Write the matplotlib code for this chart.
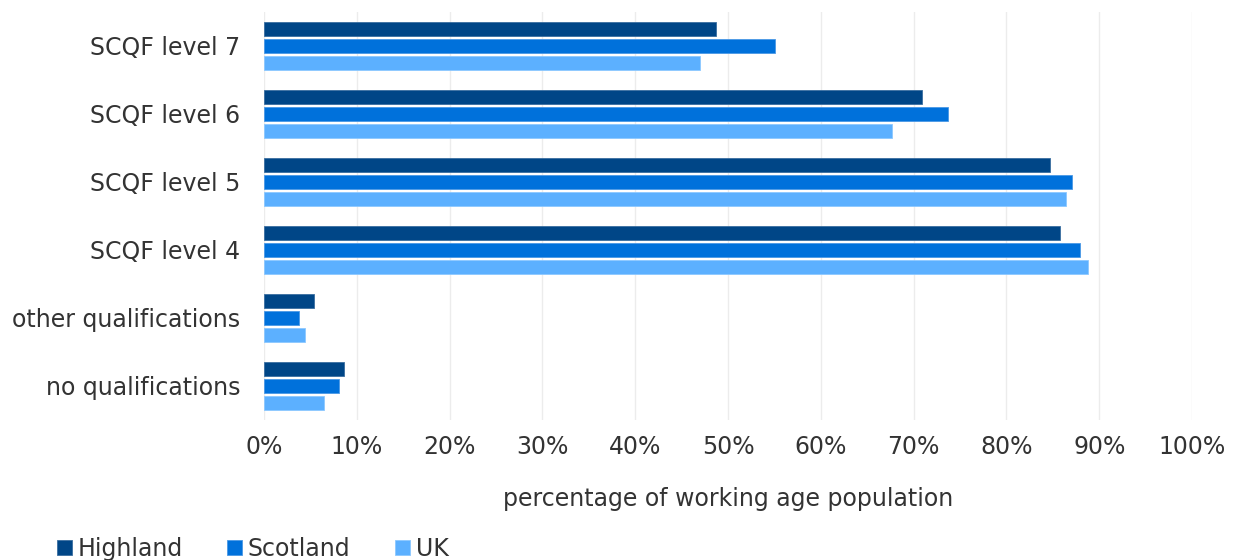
import numpy as np
import matplotlib.pyplot as plt
from matplotlib.ticker import PercentFormatter

# categories bottom to top
categories = ['no qualifications', 'other qualifications', 'SCQF level 4',
              'SCQF level 5', 'SCQF level 6', 'SCQF level 7']
highland = [8.6, 5.4, 85.8, 84.7, 70.9, 48.7]
scotland = [8.1, 3.8, 87.9, 87.1, 73.7, 55.1]
uk = [6.5, 4.4, 88.8, 86.4, 67.7, 47.0]
tick_vals = [0, 10, 20, 30, 40, 50, 60, 70, 80, 90, 100]

c_high = '#004687'
c_scot = '#0071db'
c_uk = '#5cb0ff'
txt = '#333333'
fs = 17

fig = plt.figure(figsize=(12.43, 5.6), dpi=100)
ax = fig.add_axes([264 / 1243, 140 / 560, (1192 - 264) / 1243, 408 / 560])

y = np.arange(len(categories))
h = 0.22
off = 0.25
ax.barh(y + off, highland, height=h, color=c_high, edgecolor='#3a6ea0', linewidth=0.6, label='Highland')
ax.barh(y, scotland, height=h, color=c_scot, edgecolor='#4a98e6', linewidth=0.6, label='Scotland')
ax.barh(y - off, uk, height=h, color=c_uk, edgecolor='#8cc8ff', linewidth=0.6, label='UK')

ax.set_xlim(0, 100)
ax.set_ylim(-0.5, 5.5)
ax.set_yticks(y)
ax.set_yticklabels(categories)
ax.set_xticks(tick_vals)
ax.xaxis.set_major_formatter(PercentFormatter(decimals=0))
ax.tick_params(axis='both', length=0, labelsize=fs, colors=txt)
ax.tick_params(axis='x', pad=11)
ax.tick_params(axis='y', pad=17)
for s in ax.spines.values():
    s.set_visible(False)
ax.grid(axis='x', color='#ececec', linewidth=1)
ax.set_axisbelow(True)
ax.set_xlabel('percentage of working age population', fontsize=fs, color=txt, labelpad=20)

leg = fig.legend(loc='lower left', bbox_to_anchor=(36 / 1243, -0.039), ncol=3, frameon=False,
                 fontsize=fs, handlelength=0.62, handleheight=0.62, handletextpad=0.25,
                 columnspacing=1.88)
for t in leg.get_texts():
    t.set_color(txt)

fig.savefig('out.png', dpi=100)
